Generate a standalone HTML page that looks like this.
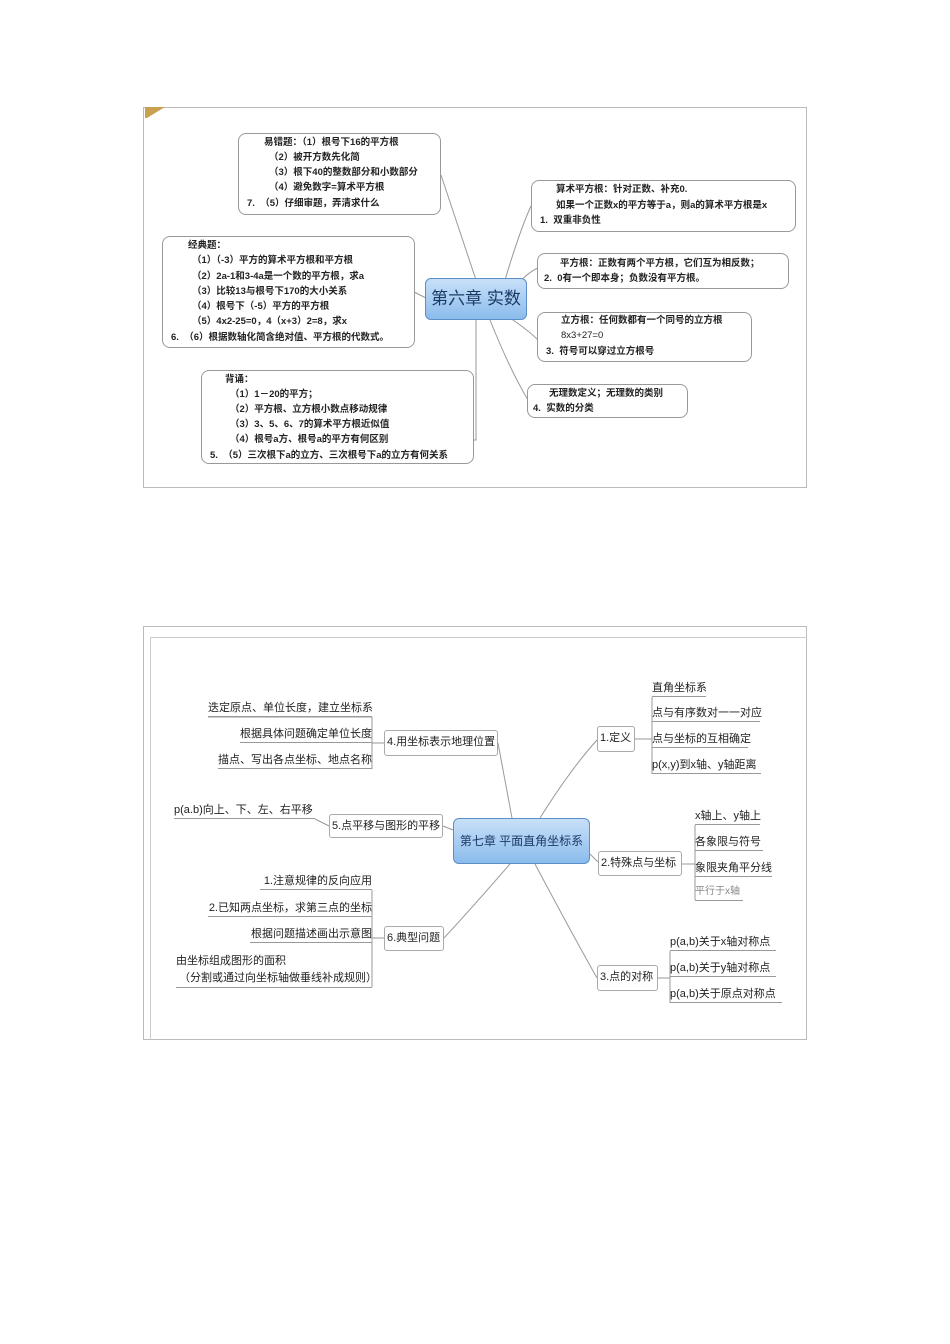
<!DOCTYPE html>
<html><head><meta charset="utf-8"><style>
body{margin:0;width:950px;height:1344px;background:#fff;position:relative;font-family:"Liberation Sans","Noto Sans CJK SC",sans-serif;overflow:hidden}
.a{position:absolute}
.bx{position:absolute;border:1px solid #999;border-radius:8px;background:#fff;box-sizing:border-box}
.t{position:absolute;font-size:9.5px;font-weight:bold;color:#222;white-space:nowrap;line-height:12px}
.n{position:absolute;border:1px solid #aaa;border-radius:3px;background:#fff;font-size:11px;color:#222;white-space:nowrap;box-sizing:border-box;padding:0 2px;line-height:23px;overflow:hidden}
.l{position:absolute;font-size:11px;color:#222;white-space:nowrap;line-height:16px;border-bottom:1px solid #999}
.c{position:absolute;border:1px solid #5a8fc8;border-radius:6px;background:linear-gradient(#c8e0f8,#8bbcec);color:#1a3a66;text-align:center;box-sizing:border-box;white-space:nowrap}
</style></head><body>
<div class="a" style="left:143px;top:107px;width:664px;height:381px;border:1px solid #bbb;box-sizing:border-box"></div>
<div class="a" style="left:145px;top:107px;width:0;height:0;border-top:11px solid #c8a050;border-right:18px solid transparent;border-left:2px solid #c8a050"></div>
<svg class="a" style="left:0;top:0" width="950" height="1344">
<g stroke="#999" fill="none" stroke-width="1">
<path d="M441 175 L476 280"/><path d="M414 292 L426 298"/><path d="M476 320 L476 440 L474 440"/>
<path d="M505 280 Q520 230 531 206"/><path d="M515 287 Q528 272 538 268"/><path d="M510 318 Q528 330 538 340"/><path d="M490 320 Q510 370 528 400"/>
<path d="M498 743 Q505 780 512 818"/><path d="M443 826 L453 830"/><path d="M444 938 Q470 910 510 864"/>
<path d="M540 818 Q570 770 597 740"/><path d="M590 854 L598 862"/><path d="M535 864 Q570 930 597 978"/>
<path d="M372 717 L372 769 M372 743 L384 743 M208 717 L372 717"/>
<path d="M315 819 L329 826"/>
<path d="M372 890 L372 987 M372 938 L384 938"/>
<path d="M635 739 L652 739 M652 697 L652 774"/>
<path d="M682 864 L695 864 M695 825 L695 900"/>
<path d="M658 978 L670 978 M670 951 L670 1003"/>
</g></svg>
<div class="bx" style="left:238px;top:133px;width:203px;height:82px"></div>
<div class="t" style="left:264px;top:137px">易错题：（1）根号下16的平方根</div>
<div class="t" style="left:269px;top:152px">（2）被开方数先化简</div>
<div class="t" style="left:269px;top:167px">（3）根下40的整数部分和小数部分</div>
<div class="t" style="left:269px;top:182px">（4）避免数字=算术平方根</div>
<div class="t" style="left:247px;top:198px">7.&nbsp;&nbsp;（5）仔细审题，弄清求什么</div>
<div class="bx" style="left:162px;top:236px;width:253px;height:112px"></div>
<div class="t" style="left:188px;top:240px">经典题：</div>
<div class="t" style="left:192px;top:255px">（1）（-3）平方的算术平方根和平方根</div>
<div class="t" style="left:192px;top:271px">（2）2a-1和3-4a是一个数的平方根，求a</div>
<div class="t" style="left:192px;top:286px">（3）比较13与根号下170的大小关系</div>
<div class="t" style="left:192px;top:301px">（4）根号下（-5）平方的平方根</div>
<div class="t" style="left:192px;top:316px">（5）4x2-25=0，4（x+3）2=8，求x</div>
<div class="t" style="left:171px;top:332px">6.&nbsp;&nbsp;（6）根据数轴化简含绝对值、平方根的代数式。</div>
<div class="bx" style="left:201px;top:370px;width:273px;height:94px"></div>
<div class="t" style="left:225px;top:374px">背诵：</div>
<div class="t" style="left:230px;top:389px">（1）1－20的平方；</div>
<div class="t" style="left:230px;top:404px">（2）平方根、立方根小数点移动规律</div>
<div class="t" style="left:230px;top:419px">（3）3、5、6、7的算术平方根近似值</div>
<div class="t" style="left:230px;top:434px">（4）根号a方、根号a的平方有何区别</div>
<div class="t" style="left:210px;top:450px">5.&nbsp;&nbsp;（5）三次根下a的立方、三次根号下a的立方有何关系</div>
<div class="c" style="left:425px;top:278px;width:102px;height:42px;font-size:17px;line-height:40px">第六章 实数</div>
<div class="bx" style="left:531px;top:180px;width:265px;height:52px"></div>
<div class="t" style="left:556px;top:184px">算术平方根：针对正数、补充0.</div>
<div class="t" style="left:556px;top:200px">如果一个正数x的平方等于a，则a的算术平方根是x</div>
<div class="t" style="left:540px;top:215px">1.&nbsp;&nbsp;双重非负性</div>
<div class="bx" style="left:537px;top:253px;width:252px;height:36px"></div>
<div class="t" style="left:560px;top:258px">平方根：正数有两个平方根，它们互为相反数；</div>
<div class="t" style="left:544px;top:273px">2.&nbsp;&nbsp;0有一个即本身；负数没有平方根。</div>
<div class="bx" style="left:537px;top:312px;width:215px;height:50px"></div>
<div class="t" style="left:561px;top:315px">立方根：任何数都有一个同号的立方根</div>
<div class="t" style="left:561px;top:330px;font-weight:normal">8x3+27=0</div>
<div class="t" style="left:546px;top:346px">3.&nbsp;&nbsp;符号可以穿过立方根号</div>
<div class="bx" style="left:527px;top:384px;width:161px;height:34px"></div>
<div class="t" style="left:549px;top:388px">无理数定义；无理数的类别</div>
<div class="t" style="left:533px;top:403px">4.&nbsp;&nbsp;实数的分类</div>

<div class="a" style="left:143px;top:626px;width:664px;height:414px;border:1px solid #bbb;box-sizing:border-box"></div>
<div class="a" style="left:150px;top:637px;width:657px;height:403px;border-left:1px solid #ccc;border-top:1px solid #ccc;box-sizing:border-box"></div>
<div class="c" style="left:453px;top:818px;width:137px;height:46px;font-size:12px;line-height:44px">第七章 平面直角坐标系</div>
<div class="n" style="left:384px;top:730px;width:114px;height:26px">4.用坐标表示地理位置</div>
<div class="l" style="left:208px;top:700px;width:164px;text-align:right">迭定原点、单位长度，建立坐标系</div>
<div class="l" style="left:240px;top:726px;width:132px;text-align:right">根据具体问题确定单位长度</div>
<div class="l" style="left:218px;top:752px;width:154px;text-align:right">描点、写出各点坐标、地点名称</div>
<div class="n" style="left:329px;top:814px;width:114px;height:24px;line-height:22px">5.点平移与图形的平移</div>
<div class="l" style="left:174px;top:802px;width:141px">p(a.b)向上、下、左、右平移</div>
<div class="n" style="left:384px;top:926px;width:60px;height:25px">6.典型问题</div>
<div class="l" style="left:260px;top:873px;width:112px;text-align:right">1.注意规律的反向应用</div>
<div class="l" style="left:208px;top:900px;width:164px;text-align:right">2.已知两点坐标，求第三点的坐标</div>
<div class="l" style="left:250px;top:926px;width:122px;text-align:right">根据问题描述画出示意图</div>
<div class="l" style="left:176px;top:953px;width:196px;line-height:17px">由坐标组成图形的面积<br>&nbsp;（分割或通过向坐标轴做垂线补成规则）</div>
<div class="n" style="left:597px;top:726px;width:38px;height:26px">1.定义</div>
<div class="l" style="left:652px;top:680px;width:54px">直角坐标系</div>
<div class="l" style="left:652px;top:705px;width:108px">点与有序数对一一对应</div>
<div class="l" style="left:652px;top:731px;width:96px">点与坐标的互相确定</div>
<div class="l" style="left:652px;top:757px;width:109px">p(x,y)到x轴、y轴距离</div>
<div class="n" style="left:598px;top:851px;width:84px;height:25px">2.特殊点与坐标</div>
<div class="l" style="left:695px;top:808px;width:65px">x轴上、y轴上</div>
<div class="l" style="left:695px;top:834px;width:68px">各象限与符号</div>
<div class="l" style="left:695px;top:860px;width:77px">象限夹角平分线</div>
<div class="l" style="left:695px;top:884px;width:48px;color:#888;font-size:10px">平行于x轴</div>
<div class="n" style="left:597px;top:965px;width:61px;height:26px">3.点的对称</div>
<div class="l" style="left:670px;top:934px;width:106px">p(a,b)关于x轴对称点</div>
<div class="l" style="left:670px;top:960px;width:106px">p(a,b)关于y轴对称点</div>
<div class="l" style="left:670px;top:986px;width:112px">p(a,b)关于原点对称点</div>
</body></html>
